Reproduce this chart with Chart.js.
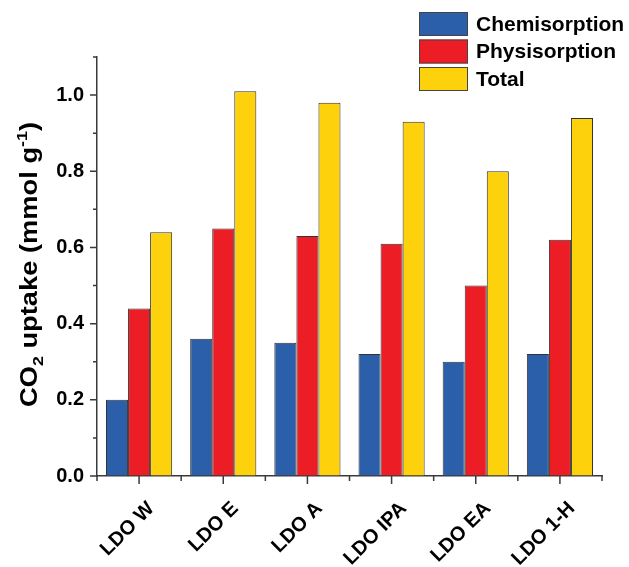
<!DOCTYPE html>
<html>
<head>
<meta charset="utf-8">
<script src="https://cdn.jsdelivr.net/npm/chart.js@4"></script>
<style>
  html, body { margin: 0; padding: 0; background: #fff; }
  canvas { display: block; }
</style>
</head>
<body>
<canvas id="c" width="629" height="567"></canvas>
<script>
const categories = ['LDO W', 'LDO E', 'LDO A', 'LDO IPA', 'LDO EA', 'LDO 1-H'];
const chemisorption = [0.20, 0.36, 0.35, 0.32, 0.30, 0.32];
const physisorption = [0.44, 0.65, 0.63, 0.61, 0.50, 0.62];
const total = [0.64, 1.01, 0.98, 0.93, 0.80, 0.94];
const seriesNames = ['Chemisorption', 'Physisorption', 'Total'];
const seriesColors = ['#2b5fa9', '#ec1d25', '#fdd20c'];
const yMin = 0, yMax = 1.1, yMajorStep = 0.2, yMinorStep = 0.1;

const FONT = '"Liberation Sans", Arial, sans-serif';
const axisColor = '#3a3a3a';

const ticksPlugin = {
  id: 'ticksPlugin',
  afterDraw(chart) {
    const ctx = chart.ctx;
    const xs = chart.scales.x, ys = chart.scales.y;
    ctx.save();
    ctx.strokeStyle = axisColor;
    ctx.lineWidth = 1.5;
    ctx.beginPath();
    for (let i = 0; i < categories.length; i++) {
      const xc = xs.getPixelForValue(i);
      ctx.moveTo(xc, xs.top); ctx.lineTo(xc, xs.top + 8);
      const xb = xs.getPixelForValue(i - 0.5);
      ctx.moveTo(xb, xs.top); ctx.lineTo(xb, xs.top + 5);
    }
    const xe = xs.getPixelForValue(categories.length - 0.5);
    ctx.moveTo(xe, xs.top); ctx.lineTo(xe, xs.top + 5);
    const n = Math.round((yMax - yMin) / yMinorStep);
    for (let k = 0; k <= n; k++) {
      const v = yMin + k * yMinorStep;
      const y = ys.getPixelForValue(v);
      const major = k % Math.round(yMajorStep / yMinorStep) === 0;
      ctx.moveTo(ys.right, y); ctx.lineTo(ys.right - (major ? 7 : 4), y);
    }
    ctx.stroke();
    ctx.restore();
  }
};

const titlePlugin = {
  id: 'titlePlugin',
  afterDraw(chart) {
    const ctx = chart.ctx;
    const ys = chart.scales.y;
    const cy = (ys.top + ys.bottom) / 2 - 2;
    const main = 'bold 23px ' + FONT;
    const small = 'bold 15px ' + FONT;
    const pieces = [
      ['CO', main, 0], ['2', small, 6], [' uptake (mmol g', main, 0], ['-1', small, -10], [')', main, 0]
    ];
    ctx.save();
    let w = 0;
    pieces.forEach(p => { ctx.font = p[1]; p.push(ctx.measureText(p[0]).width); w += p[3]; });
    const targetLen = 285;
    const sx = targetLen / w;
    ctx.translate(37, cy);
    ctx.rotate(-Math.PI / 2);
    ctx.scale(sx, 1);
    ctx.fillStyle = '#000';
    ctx.textBaseline = 'alphabetic';
    ctx.textAlign = 'left';
    let x = -w / 2;
    pieces.forEach(p => { ctx.font = p[1]; ctx.fillText(p[0], x, p[2]); x += p[3]; });
    ctx.restore();
  }
};

const legendPlugin = {
  id: 'legendPlugin',
  afterDraw(chart) {
    const ctx = chart.ctx;
    ctx.save();
    chart.data.datasets.forEach((ds, i) => {
      const top = 12 + i * 27.5;
      ctx.fillStyle = ds.backgroundColor;
      ctx.fillRect(419, top, 49, 24);
      ctx.strokeStyle = '#444';
      ctx.lineWidth = 1;
      ctx.strokeRect(419.5, top + 0.5, 48, 23);
      ctx.fillStyle = '#000';
      ctx.font = 'bold 21px ' + FONT;
      ctx.textBaseline = 'middle';
      ctx.textAlign = 'left';
      ctx.fillText(ds.label, 476, top + 13);
    });
    ctx.restore();
  }
};

const datasets = [chemisorption, physisorption, total].map((d, i) => ({
  label: seriesNames[i],
  data: d,
  backgroundColor: seriesColors[i],
  borderColor: '#333',
  borderWidth: 1,
  categoryPercentage: 0.786,
  barPercentage: 1.0
}));

new Chart(document.getElementById('c'), {
  type: 'bar',
  data: { labels: categories, datasets },
  plugins: [ticksPlugin, titlePlugin, legendPlugin],
  options: {
    responsive: false,
    animation: false,
    layout: { padding: { top: 57, right: 27, left: 0, bottom: 0 } },
    plugins: { legend: { display: false }, tooltip: { enabled: false } },
    scales: {
      x: {
        grid: { display: true, drawOnChartArea: false, drawTicks: false },
        border: { color: axisColor, width: 1.5 },
        ticks: {
          color: '#000', font: { family: FONT, size: 20, weight: 'bold' },
          maxRotation: 45, minRotation: 45, padding: 21, labelOffset: 12, autoSkip: false
        },
        afterFit(s) { s.height = 91; }
      },
      y: {
        min: yMin, max: yMax,
        grid: { display: true, drawOnChartArea: false, drawTicks: false },
        border: { color: axisColor, width: 1.5 },
        ticks: {
          stepSize: yMajorStep, includeBounds: false,
          color: '#000', font: { family: FONT, size: 20, weight: 'bold' },
          padding: 13,
          callback: v => Number(v).toFixed(1)
        },
        afterFit(s) { s.width = 97; }
      }
    }
  }
});
</script>
</body>
</html>
